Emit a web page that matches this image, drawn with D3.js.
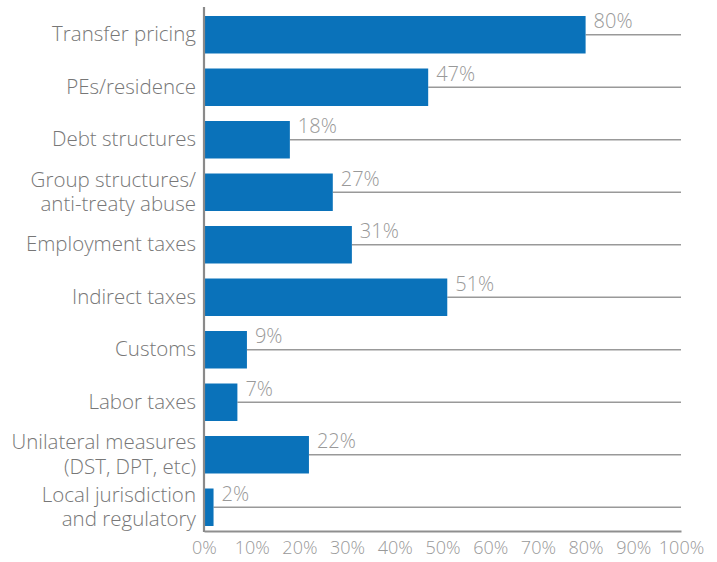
<!DOCTYPE html>
<html>
<head>
<meta charset="utf-8">
<script src="https://cdn.jsdelivr.net/npm/d3@7"></script>
<style>
  html, body { margin: 0; padding: 0; background: #fff; }
  svg { display: block; font-family: "Open Sans", sans-serif; font-weight: 300; }
</style>
</head>
<body>
<svg id="chart" width="717" height="562"></svg>
<script>
// Share of respondents citing each area of tax controversy
const categories = [
  ["Transfer pricing"],
  ["PEs/residence"],
  ["Debt structures"],
  ["Group structures/", "anti-treaty abuse"],
  ["Employment taxes"],
  ["Indirect taxes"],
  ["Customs"],
  ["Labor taxes"],
  ["Unilateral measures", "(DST, DPT, etc)"],
  ["Local jurisdiction", "and regulatory"]
];
const values = [80, 47, 18, 27, 31, 51, 9, 7, 22, 2];
const tickValues = [0, 10, 20, 30, 40, 50, 60, 70, 80, 90, 100];

const svg = d3.select("#chart");
const barColor = "#0a72ba";
const labelGrey = "#777777";
const lightGrey = "#999999";

const x = d3.scaleLinear().domain([0, 100]).range([204, 681]);
const y = d3.scaleBand()
  .domain(d3.range(categories.length))
  .range([8.5, 533.5])
  .paddingInner(0.286)
  .paddingOuter(0.143);

// Guide lines running from the bar end to the right edge
svg.append("g").selectAll("line")
  .data(values)
  .join("line")
  .attr("x1", d => x(d))
  .attr("x2", x(100))
  .attr("y1", (d, i) => y(i) + y.bandwidth() / 2)
  .attr("y2", (d, i) => y(i) + y.bandwidth() / 2)
  .attr("stroke", lightGrey)
  .attr("stroke-width", 1.3);

// Bars
svg.append("g").selectAll("rect")
  .data(values)
  .join("rect")
  .attr("x", x(0))
  .attr("y", (d, i) => y(i))
  .attr("width", d => x(d) - x(0))
  .attr("height", y.bandwidth())
  .attr("fill", barColor);

// Value labels sitting above the guide line
svg.append("g").selectAll("text")
  .data(values)
  .join("text")
  .attr("x", d => x(d) + 8)
  .attr("y", (d, i) => y(i) + y.bandwidth() / 2 - 6.7)
  .attr("font-size", 20)
  .attr("fill", lightGrey)
  .text(d => d + "%");

// Category labels, right-aligned, possibly on two lines
const catG = svg.append("g");
categories.forEach((lines, i) => {
  const cy = y(i) + y.bandwidth() / 2;
  const t = catG.append("text")
    .attr("text-anchor", "end")
    .attr("font-size", 20.5)
    .attr("fill", labelGrey);
  lines.forEach((ln, k) => {
    t.append("tspan")
      .attr("x", 196)
      .attr("y", cy + 6.5 + (k - (lines.length - 1) / 2) * 24.5)
      .text(ln);
  });
});

// Bottom axis
const xAxis = d3.axisBottom(x)
  .tickValues(tickValues)
  .tickFormat(d => d + "%")
  .tickSize(0)
  .tickPadding(10);
const axG = svg.append("g")
  .attr("transform", "translate(0,531)")
  .call(xAxis);
axG.select(".domain").attr("stroke", "#8f8f8f").attr("stroke-width", 2.2);
axG.selectAll("text")
  .attr("font-size", 18)
  .attr("font-family", "Open Sans, sans-serif")
  .attr("font-weight", 300)
  .attr("fill", lightGrey);

// Vertical baseline at zero
svg.append("line")
  .attr("x1", x(0)).attr("x2", x(0))
  .attr("y1", 7).attr("y2", 532)
  .attr("stroke", "#8a8a8a")
  .attr("stroke-width", 2.2);
</script>
</body>
</html>
